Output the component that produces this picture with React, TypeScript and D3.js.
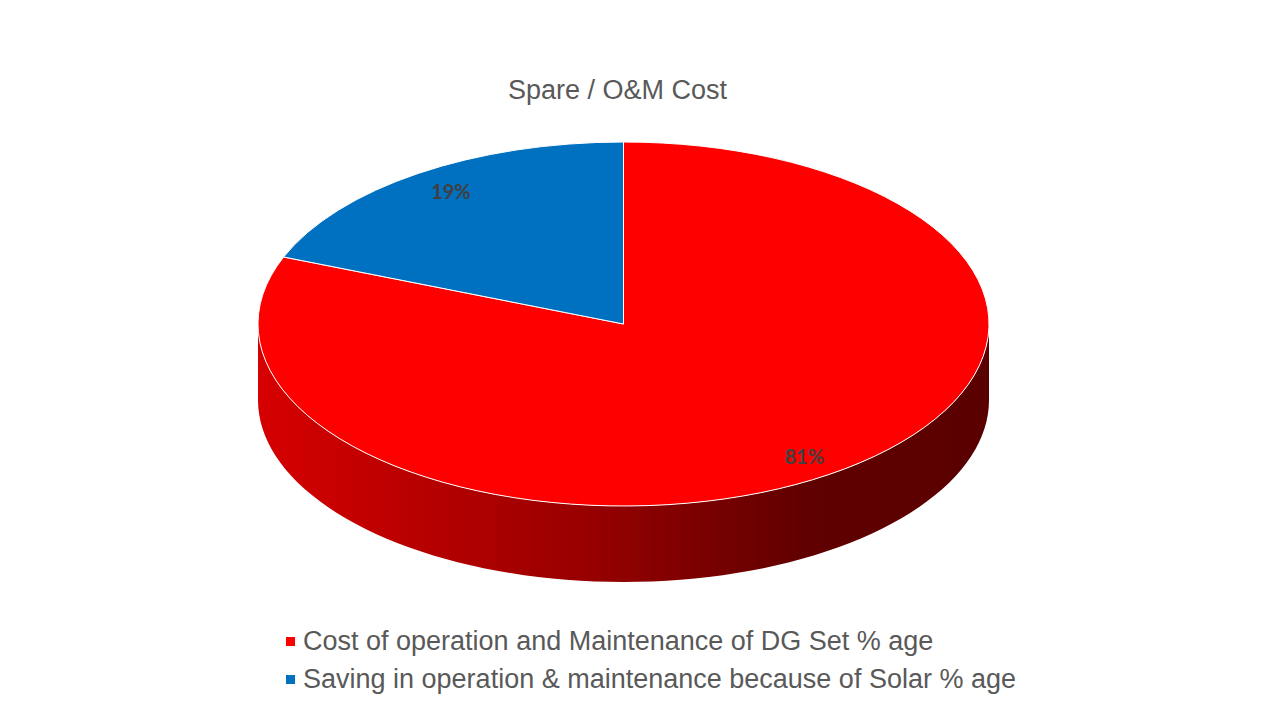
import React, { useRef, useEffect } from 'react';
import * as d3 from 'd3';

const categories = [
  'Cost of operation and Maintenance of DG Set % age',
  'Saving in operation & maintenance because of Solar % age',
];
const values = [81, 19];
const colors = ['#FF0000', '#0070C0'];
const sideStops = [
  { offset: '0%', color: '#D60000' },
  { offset: '45%', color: '#980000' },
  { offset: '75%', color: '#600000' },
  { offset: '100%', color: '#5A0000' },
];
const title = 'Spare / O&M Cost';

const App: React.FC = () => {
  const svgRef = useRef<SVGSVGElement>(null);

  useEffect(() => {
    const svg = d3.select(svgRef.current);
    svg.selectAll('*').remove();

    const width = 1280;
    const height = 720;
    const cx = 623.5;
    const cy = 324;
    const rx = 365.5;
    const ry = 182;
    const depth = 76;

    const pie = d3.pie<number>().sort(null).value(d => d);
    const arcs = pie(values);

    // point on the ellipse for a d3 angle (0 = 12 o'clock, clockwise)
    const pt = (a: number, dy = 0): [number, number] => [
      cx + rx * Math.sin(a),
      cy - ry * Math.cos(a) + dy,
    ];

    const defs = svg.append('defs');
    const grad = defs.append('linearGradient')
      .attr('id', 'side-grad')
      .attr('gradientUnits', 'userSpaceOnUse')
      .attr('x1', cx - rx).attr('y1', 0)
      .attr('x2', cx + rx).attr('y2', 0);
    sideStops.forEach(s => {
      grad.append('stop').attr('offset', s.offset).attr('stop-color', s.color);
    });

    // Side walls (front half only)
    arcs.forEach((a, i) => {
      const s = Math.max(a.startAngle, Math.PI / 2);
      const e = Math.min(a.endAngle, Math.PI * 3 / 2);
      if (e <= s) return;
      const n = 80;
      const top = d3.range(n + 1).map(k => pt(s + (e - s) * k / n));
      const bottom = d3.range(n + 1).map(k => pt(e - (e - s) * k / n, depth));
      svg.append('path')
        .attr('d', d3.line()([...top, ...bottom]) + 'Z')
        .attr('fill', i === 0 ? 'url(#side-grad)' : d3.color(colors[i])!.darker(1.5).toString())
        .attr('stroke', 'none');
    });

    // Top face
    const arcGen = d3.arc<d3.PieArcDatum<number>>().innerRadius(0).outerRadius(rx);
    const top = svg.append('g')
      .attr('transform', `translate(${cx},${cy}) scale(1,${ry / rx})`);
    top.selectAll('path.slice')
      .data(arcs)
      .enter().append('path')
      .attr('class', 'slice')
      .attr('d', arcGen)
      .attr('fill', (_, i) => colors[i])
      .attr('stroke', '#FFFFFF')
      .attr('stroke-width', 1)
      .attr('vector-effect', 'non-scaling-stroke');

    // Data labels
    const labelR = [0.88, 0.84];
    arcs.forEach((a, i) => {
      const mid = (a.startAngle + a.endAngle) / 2;
      const r = labelR[i];
      const [x, y] = [cx + r * rx * Math.sin(mid), cy - 0.88 * ry * Math.cos(mid)];
      svg.append('text')
        .attr('x', x)
        .attr('y', y)
        .attr('dy', '0.36em')
        .attr('text-anchor', 'middle')
        .style('font-family', 'Lato, "Open Sans", sans-serif')
        .style('font-weight', 'bold')
        .style('font-size', '20px')
        .style('fill', '#404040')
        .text(`${a.data}%`);
    });

    // Title
    svg.append('text')
      .attr('x', 617.5)
      .attr('y', 99)
      .attr('text-anchor', 'middle')
      .style('font-family', '"Liberation Sans", Arial, sans-serif')
      .style('font-size', '27px')
      .style('fill', '#595959')
      .text(title);

    // Legend
    const legend = svg.append('g').attr('transform', 'translate(286, 650)');
    categories.forEach((c, i) => {
      legend.append('rect')
        .attr('x', 0)
        .attr('y', i * 38 - 13)
        .attr('width', 9)
        .attr('height', 9)
        .attr('fill', colors[i]);
      legend.append('text')
        .attr('x', 17)
        .attr('y', i * 38)
        .style('font-family', '"Liberation Sans", Arial, sans-serif')
        .style('font-size', '27px')
        .style('fill', '#595959')
        .text(c);
    });

    svg.attr('width', width).attr('height', height);
  }, []);

  return (
    <svg
      ref={svgRef}
      width="1280"
      height="720"
      style={{ position: 'absolute', left: 0, top: 0, background: '#FFFFFF' }}
    />
  );
};

export default App;
